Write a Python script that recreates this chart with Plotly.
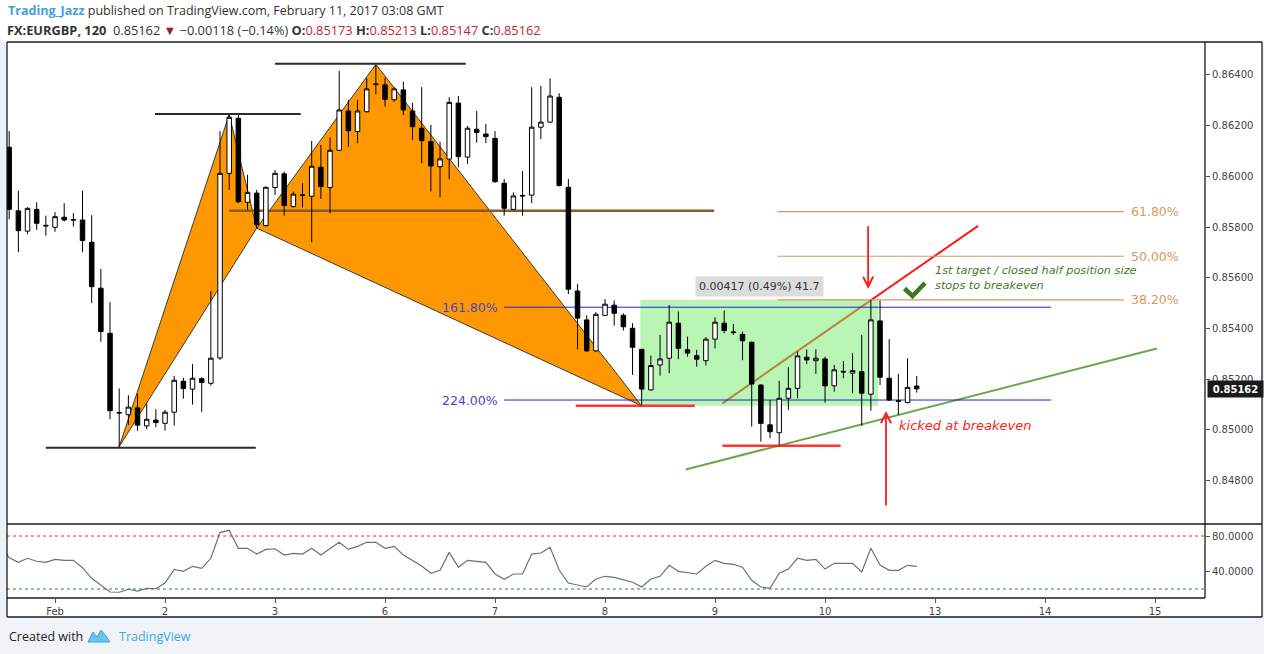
import plotly.graph_objects as go

# ---- EURGBP 120-min candles, index 0 = first bar on the left ----
idx = list(range(100))
opens = [
    0.86115, 0.85864, 0.85784, 0.85870, 0.85807, 0.85799, 0.85839, 0.85830, 0.85828, 0.85740,
    0.85559, 0.85381, 0.85069, 0.85060, 0.85087, 0.85016, 0.85039, 0.85026, 0.85070, 0.85192,
    0.85161, 0.85202, 0.85184, 0.85284, 0.86012, 0.86229, 0.85898, 0.85934, 0.85806, 0.85956,
    0.86010, 0.85881, 0.85927, 0.85922, 0.86036, 0.85956, 0.86103, 0.86258, 0.86177, 0.86255,
    0.86362, 0.86361, 0.86302, 0.86341, 0.86258, 0.86190, 0.86137, 0.86038, 0.86068, 0.86289,
    0.86076, 0.86186, 0.86167, 0.86150, 0.85973, 0.85870, 0.85925, 0.85926, 0.86194, 0.86214,
    0.86312, 0.85957, 0.85548, 0.85434, 0.85312, 0.85452, 0.85492, 0.85452, 0.85401, 0.85318,
    0.85158, 0.85256, 0.85283, 0.85421, 0.85316, 0.85293, 0.85273, 0.85358, 0.85421, 0.85384,
    0.85377, 0.85346, 0.85177, 0.85020, 0.84989, 0.85125, 0.85164, 0.85287, 0.85273, 0.85280,
    0.85174, 0.85231, 0.85224, 0.85230, 0.85141, 0.85430, 0.85204, 0.85115, 0.85108, 0.85173,
]
highs = [
    0.86179, 0.85943, 0.85878, 0.85898, 0.85845, 0.85859, 0.85894, 0.85855, 0.85943, 0.85847,
    0.85635, 0.85504, 0.85164, 0.85137, 0.85142, 0.85103, 0.85082, 0.85079, 0.85213, 0.85206,
    0.85260, 0.85208, 0.85548, 0.86179, 0.86242, 0.86242, 0.86006, 0.85947, 0.85960, 0.86025,
    0.86019, 0.85940, 0.85973, 0.86140, 0.86124, 0.86154, 0.86416, 0.86302, 0.86302, 0.86387,
    0.86440, 0.86389, 0.86352, 0.86374, 0.86290, 0.86352, 0.86203, 0.86137, 0.86312, 0.86317,
    0.86199, 0.86258, 0.86207, 0.86179, 0.85990, 0.85937, 0.86021, 0.86352, 0.86357, 0.86387,
    0.86328, 0.85990, 0.85576, 0.85452, 0.85465, 0.85516, 0.85511, 0.85460, 0.85421, 0.85319,
    0.85293, 0.85375, 0.85493, 0.85467, 0.85368, 0.85316, 0.85366, 0.85444, 0.85471, 0.85418,
    0.85388, 0.85348, 0.85180, 0.85118, 0.85194, 0.85247, 0.85309, 0.85318, 0.85318, 0.85289,
    0.85256, 0.85272, 0.85303, 0.85375, 0.85513, 0.85510, 0.85358, 0.85221, 0.85283, 0.85213,
]
lows = [
    0.85831, 0.85701, 0.85772, 0.85789, 0.85766, 0.85782, 0.85822, 0.85802, 0.85701, 0.85500,
    0.85348, 0.85042, 0.84934, 0.85019, 0.84997, 0.85003, 0.85011, 0.84997, 0.85017, 0.85123,
    0.85100, 0.85071, 0.85175, 0.85276, 0.85947, 0.85895, 0.85868, 0.85796, 0.85802, 0.85927,
    0.85845, 0.85877, 0.85877, 0.85740, 0.85911, 0.85855, 0.86100, 0.86117, 0.86131, 0.86252,
    0.86324, 0.86275, 0.86295, 0.86242, 0.86144, 0.86052, 0.85940, 0.85918, 0.85989, 0.86036,
    0.86049, 0.86133, 0.86131, 0.85975, 0.85845, 0.85868, 0.85845, 0.85894, 0.86147, 0.86211,
    0.85960, 0.85536, 0.85317, 0.85308, 0.85308, 0.85448, 0.85411, 0.85392, 0.85217, 0.85095,
    0.85155, 0.85214, 0.85224, 0.85279, 0.85289, 0.85250, 0.85254, 0.85322, 0.85381, 0.85375,
    0.85275, 0.85013, 0.84954, 0.84967, 0.84934, 0.85079, 0.85125, 0.85260, 0.85221, 0.85108,
    0.85151, 0.85204, 0.85145, 0.85016, 0.85076, 0.85177, 0.85114, 0.85059, 0.85105, 0.85147,
]
closes = [
    0.85870, 0.85786, 0.85874, 0.85815, 0.85805, 0.85841, 0.85828, 0.85828, 0.85747, 0.85565,
    0.85388, 0.85076, 0.85067, 0.85090, 0.85019, 0.85042, 0.85029, 0.85070, 0.85196, 0.85163,
    0.85204, 0.85187, 0.85283, 0.86012, 0.86233, 0.85900, 0.85937, 0.85809, 0.85957, 0.86012,
    0.85885, 0.85930, 0.85925, 0.86040, 0.85960, 0.86103, 0.86262, 0.86180, 0.86258, 0.86345,
    0.86364, 0.86304, 0.86345, 0.86262, 0.86196, 0.86141, 0.86041, 0.86069, 0.86292, 0.86078,
    0.86190, 0.86173, 0.86157, 0.85979, 0.85874, 0.85923, 0.85923, 0.86194, 0.86214, 0.86317,
    0.85964, 0.85555, 0.85441, 0.85312, 0.85456, 0.85496, 0.85460, 0.85407, 0.85326, 0.85161,
    0.85254, 0.85280, 0.85425, 0.85322, 0.85303, 0.85279, 0.85358, 0.85425, 0.85392, 0.85386,
    0.85352, 0.85181, 0.85026, 0.84993, 0.85125, 0.85164, 0.85292, 0.85276, 0.85283, 0.85174,
    0.85237, 0.85229, 0.85234, 0.85145, 0.85434, 0.85208, 0.85118, 0.85113, 0.85168, 0.85162,
]

# oscillator (lower pane), starts one bar before the first candle
osc_x = list(range(-1, 100))
osc = [
    70.0,
    55.4, 50.2, 54.8, 51.4, 50.2, 53.6, 52.5, 52.5, 44.1, 32.1,
    24.5, 16.6, 16.3, 19.7, 17.7, 20.8, 20.3, 26.8, 42.3, 40.0,
    45.7, 43.4, 54.8, 84.2, 86.5, 66.1, 66.1, 59.6, 64.9, 65.6,
    58.5, 60.4, 59.6, 66.1, 58.5, 66.1, 72.9, 64.9, 68.3, 72.9,
    72.9, 66.1, 68.3, 58.5, 52.0, 46.0, 37.8, 41.2, 61.5, 44.6,
    52.5, 51.4, 50.2, 37.0, 31.0, 37.0, 37.0, 59.6, 60.8, 67.2,
    41.5, 26.8, 24.5, 22.3, 31.3, 34.4, 33.2, 30.5, 27.6, 22.3,
    31.3, 34.4, 46.8, 40.0, 38.8, 37.0, 45.7, 52.5, 49.1, 48.0,
    44.6, 29.8, 22.3, 20.8, 37.8, 42.6, 54.8, 52.5, 53.6, 42.6,
    49.1, 48.7, 49.1, 39.2, 66.1, 47.2, 41.2, 41.2, 46.8, 45.7,
]

day_ticks = [5, 17, 29, 41, 53, 65, 77, 89, 101, 113, 125]
day_labels = ["Feb", "2", "3", "6", "7", "8", "9", "10", "13", "14", "15"]
price_ticks = [0.848, 0.850, 0.852, 0.854, 0.856, 0.858, 0.860, 0.862, 0.864]
price_labels = ["%.5f" % p for p in price_ticks]

# XABCD points (bar index, price)
pat_x = [12, 24, 27, 40, 69]
pat_y = [0.84934, 0.86244, 0.85796, 0.86442, 0.85095]

fib_levels = [0.85861, 0.85685, 0.85513]
fib_names = ["61.80%", "50.00%", "38.20%"]
ext_levels = [0.85484, 0.85118]
ext_names = ["161.80%", "224.00%"]

# figure / plot area in pixels
W, H = 1264, 654
ML, MR, MT, MB = 7, 59, 42, 56


def px(x):
    return (x - ML) / (W - ML - MR)


def py(y):
    return (H - MB - y) / (H - MT - MB)


ORANGE = "#ff9800"
RED = "#ff1a1a"
TAN = "#d39a62"
BLUE = "#2323d6"
GREEN_T = "#3f7d24"
AXIS_FONT = dict(family="DejaVu Sans", size=10, color="#444")

fig = go.Figure()
fig.add_trace(go.Candlestick(
    x=idx, open=opens, high=highs, low=lows, close=closes,
    increasing=dict(fillcolor="white", line=dict(color="black", width=1)),
    decreasing=dict(fillcolor="black", line=dict(color="black", width=1)),
    whiskerwidth=0, hoverinfo="skip", xaxis="x", yaxis="y",
))
fig.add_trace(go.Scatter(
    x=osc_x, y=osc, mode="lines", line=dict(color="#707070", width=1.2),
    hoverinfo="skip", xaxis="x", yaxis="y2",
))

shapes = []


def tri(a, b, c):
    pts = [(pat_x[i], pat_y[i]) for i in (a, b, c)]
    return "M {},{} L {},{} L {},{} Z".format(*(pts[0] + pts[1] + pts[2]))


def pix_path(points, close=False):
    s = "M " + " L ".join("{:f},{:f}".format(px(a), py(b)) for a, b in points)
    return s + (" Z" if close else "")


for a, b, c in [(0, 1, 2), (2, 3, 4)]:
    shapes.append(dict(type="path", path=tri(a, b, c), xref="x", yref="y", layer="below",
                       fillcolor=ORANGE, line=dict(color="#3a3a3a", width=1)))

# black swing lines
for x0, x1, y in [(4.0, 26.9, 0.84930), (15.9, 31.8, 0.86246), (29.0, 49.8, 0.86444)]:
    shapes.append(dict(type="line", x0=x0, x1=x1, y0=y, y1=y, xref="x", yref="y",
                       layer="below", line=dict(color="#2b2b2b", width=2)))
# brown level
shapes.append(dict(type="line", x0=24.0, x1=76.9, y0=0.85864, y1=0.85864, xref="x", yref="y",
                   layer="below", line=dict(color="#8a5a2a", width=2.5)))
# red trend line (under the box)
shapes.append(dict(type="line", x0=77.8, y0=0.85105, x1=105.7, y1=0.85805, xref="x", yref="y",
                   layer="below", line=dict(color=RED, width=2)))
# green range box
shapes.append(dict(type="rect", x0=68.85, x1=94.8, y0=0.85095, y1=0.85513, xref="x", yref="y",
                   layer="below", fillcolor="rgba(115,235,105,0.5)", line=dict(width=0)))
# green support line
shapes.append(dict(type="line", x0=73.8, y0=0.84844, x1=125.2, y1=0.85321, xref="x", yref="y",
                   layer="below", line=dict(color="#6aa84a", width=2)))
# extension lines
for y in ext_levels:
    shapes.append(dict(type="line", x0=54.0, x1=113.65, y0=y, y1=y, xref="x", yref="y",
                       layer="below", line=dict(color=BLUE, width=1)))
# fib lines
for y in fib_levels:
    shapes.append(dict(type="line", x0=83.8, x1=121.6, y0=y, y1=y, xref="x", yref="y",
                       layer="below", line=dict(color=TAN, width=1.2)))
# red stop lines
for x0, x1, y in [(61.8, 74.8, 0.85095), (77.8, 90.7, 0.84938)]:
    shapes.append(dict(type="line", x0=x0, x1=x1, y0=y, y1=y, xref="x", yref="y",
                       line=dict(color="rgba(255,20,20,0.85)", width=2.5)))
# oscillator levels
for y, c in [(80, "#ff2020"), (20, "#3a7d3a")]:
    shapes.append(dict(type="line", x0=0, x1=1, y0=y, y1=y, xref="x domain", yref="y2",
                       line=dict(color=c, width=1, dash="dot")))
# check mark
shapes.append(dict(type="path", xref="paper", yref="paper",
                   path=pix_path([(904.5, 288.5), (912.5, 296), (925, 283)]),
                   line=dict(color="#3d7a1f", width=4.5)))

# frame
frame = "#1a1a1a"
for x0, y0, x1, y1 in [
    (7, 42, 1262, 42), (7, 42, 7, 617), (1262, 42, 1262, 617), (7, 617, 1262, 617),
    (7, 524, 1262, 524), (7, 598, 1205, 598), (1205, 42, 1205, 598),
]:
    shapes.append(dict(type="line", xref="paper", yref="paper", x0=px(x0), x1=px(x1),
                       y0=py(y0), y1=py(y1), line=dict(color=frame, width=1.3)))
# page background strips
shapes.append(dict(type="rect", xref="paper", yref="paper", x0=px(0), x1=px(6.3), y0=py(42), y1=py(618),
                   fillcolor="#eef2f6", line=dict(width=0), layer="below"))
shapes.append(dict(type="rect", xref="paper", yref="paper", x0=px(0), x1=px(1264), y0=py(618), y1=py(654),
                   fillcolor="#f0f3f7", line=dict(width=0), layer="below"))
shapes.append(dict(type="rect", xref="paper", yref="paper", x0=px(1263), x1=px(1264), y0=py(42), y1=py(618),
                   fillcolor="#eef2f6", line=dict(width=0), layer="below"))
# TradingView logo (rough)
lx, ly = 88, 628
logo = [(lx + a, ly + b) for a, b in [(0, 14), (5, 4), (9, 9), (13, 2), (18, 8), (22, 14)]]
shapes.append(dict(type="path", xref="paper", yref="paper", path=pix_path(logo, close=True),
                   fillcolor="#6cc3ec", line=dict(color="#3aa6dc", width=1)))

ann = []
for y, t in zip(ext_levels, ext_names):
    ann.append(dict(x=53.55, y=y, xref="x", yref="y", text=t, showarrow=False, xanchor="right",
                    font=dict(family="DejaVu Sans", size=12.5, color="#4646c4")))
for y, t in zip(fib_levels, fib_names):
    ann.append(dict(x=122.2, y=y, xref="x", yref="y", text=t, showarrow=False, xanchor="left",
                    font=dict(family="DejaVu Sans", size=12.5, color=TAN)))
ann.append(dict(x=81.85, y=0.85564, xref="x", yref="y", text="0.00417 (0.49%) 41.7", showarrow=False,
                bgcolor="#dcdcdc", borderpad=3, font=dict(family="DejaVu Sans", size=11, color="#333")))
ann.append(dict(x=100.8, y=0.85598, xref="x", yref="y", xanchor="left", align="left", showarrow=False,
                text="<i>1st target / closed half position size<br>stops to breakeven</i>",
                font=dict(family="DejaVu Sans", size=11.3, color=GREEN_T)))
ann.append(dict(x=96.9, y=0.85016, xref="x", yref="y", xanchor="left", showarrow=False,
                text="<i>kicked at breakeven</i>", font=dict(family="DejaVu Sans", size=13, color=RED)))
# arrows
ann.append(dict(x=93.7, y=0.85556, ax=93.7, ay=0.85809, xref="x", yref="y", axref="x", ayref="y",
                text="", showarrow=True, arrowhead=5, arrowsize=1.1, arrowwidth=1.8, arrowcolor=RED))
ann.append(dict(x=95.65, y=0.85075, ax=95.65, ay=0.84696, xref="x", yref="y", axref="x", ayref="y",
                text="", showarrow=True, arrowhead=5, arrowsize=1.1, arrowwidth=1.8, arrowcolor=RED))
# last price tag
ann.append(dict(x=px(1207), y=closes[-1], xref="paper", yref="y", xanchor="left", showarrow=False,
                text="<b>{:.5f}</b>".format(closes[-1]), bgcolor="#1b1b1b", width=51, height=12, borderpad=2,
                font=dict(family="DejaVu Sans", size=10, color="white")))
# header
ann.append(dict(x=px(6), y=py(11), xref="paper", yref="paper", xanchor="left", yanchor="middle",
                showarrow=False, font=dict(family="Open Sans", size=12.5, color="#333"),
                text="<span style='color:#3fa3dd'><b>Trading_Jazz</b></span> published on TradingView.com, "
                     "February 11, 2017 03:08 GMT"))
R2 = "#c0272d"


def red(v):
    return "<span style='color:" + R2 + "'>" + v + "</span>"


header2 = ("<b>FX:EURGBP, 120</b>  0.85162 <span style='color:#9b1c1c'>▼</span> −0.00118 (−0.14%) "
           + "<b>O:</b>" + red("0.85173") + " <b>H:</b>" + red("0.85213")
           + " <b>L:</b>" + red("0.85147") + " <b>C:</b>" + red("0.85162"))
ann.append(dict(x=px(5), y=py(29.5), xref="paper", yref="paper", xanchor="left", yanchor="middle",
                showarrow=False, font=dict(family="Open Sans", size=12.8, color="#333"), text=header2))
ann.append(dict(x=px(7), y=py(636), xref="paper", yref="paper", xanchor="left", yanchor="middle",
                showarrow=False, text="Created with", font=dict(family="Open Sans", size=12.5, color="#222")))
ann.append(dict(x=px(117), y=py(636), xref="paper", yref="paper", xanchor="left", yanchor="middle",
                showarrow=False, text="TradingView", font=dict(family="Open Sans", size=12.5, color="#3fa9de")))

y_split = (598 - 523) / (H - MT - MB)
fig.update_layout(
    template="none",
    width=W, height=H,
    margin=dict(l=ML, r=MR, t=MT, b=MB, pad=0),
    paper_bgcolor="white", plot_bgcolor="white",
    showlegend=False,
    hovermode=False,
    shapes=shapes,
    annotations=ann,
    xaxis=dict(domain=[0, 1], anchor="y2", range=[-0.24, 130.45], rangeslider=dict(visible=False),
               tickvals=day_ticks, ticktext=day_labels, ticks="outside", ticklen=4, tickcolor="#555",
               showgrid=False, zeroline=False, showline=False, tickfont=AXIS_FONT),
    yaxis=dict(domain=[y_split, 1], anchor="x", side="right", range=[0.84633, 0.86530],
               tickvals=price_ticks, ticktext=price_labels, ticks="outside", ticklen=4, tickcolor="#555",
               showgrid=False, zeroline=False, showline=False, tickfont=AXIS_FONT),
    yaxis2=dict(domain=[0, (598 - 525) / (H - MT - MB)], anchor="x", side="right", range=[9.8, 92.5],
                tickvals=[40, 80], ticktext=["40.0000", "80.0000"], ticks="outside", ticklen=4,
                tickcolor="#555", showgrid=False, zeroline=False, showline=False, tickfont=AXIS_FONT),
)

# the page body has a default 8px margin; drop it so the figure sits at 0,0
fig.write_html("out.html", config={"displayModeBar": False},
               post_script="document.body.style.margin='0';document.body.style.overflow='hidden';")
